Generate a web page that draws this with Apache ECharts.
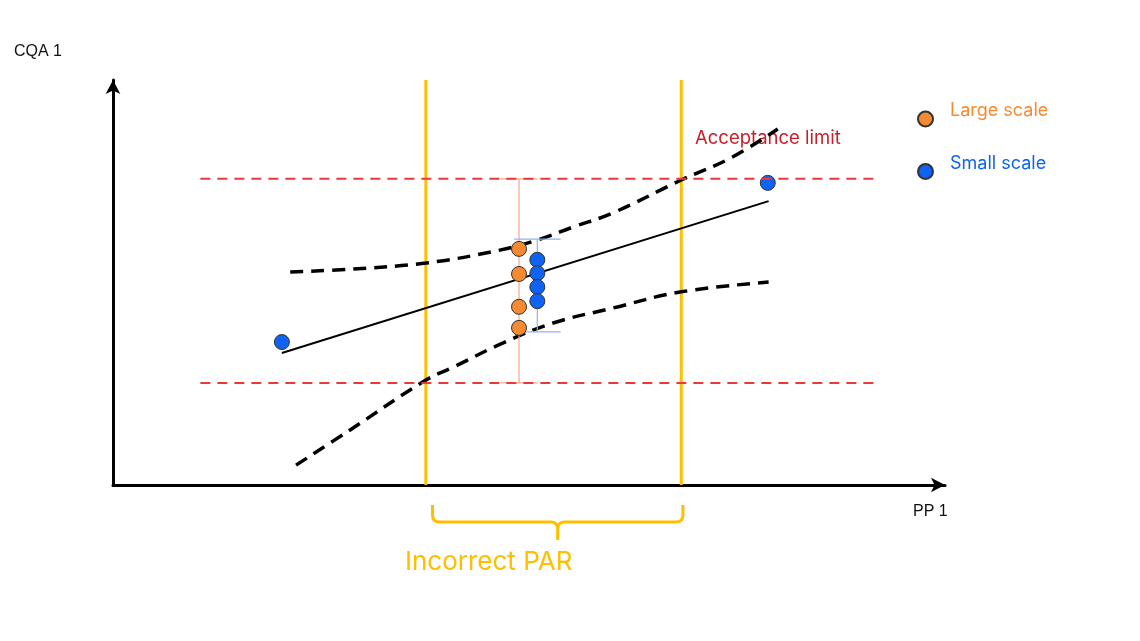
<!DOCTYPE html>
<html>
<head>
<meta charset="utf-8">
<script src="https://cdn.jsdelivr.net/npm/echarts@6/dist/echarts.min.js"></script>
<style>
  html, body { margin: 0; padding: 0; background: #fff; }
  #chart { width: 1140px; height: 641px; }
</style>
</head>
<body>
<div id="chart"></div>
<script>
// values, both axes on a 0..100 scale
const acceptanceY = [75.6, 25.2];          // upper / lower acceptance limit
const acceptanceX = [10.5, 92.2];          // extent of the limit lines
const parX = [37.6, 68.3];                 // incorrect PAR edges
const braceX = [38.4, 68.5];
const fitLine = [[20.3, 32.6], [78.8, 70.1]];
const upperBand = [[21.3, 52.6], [28.5, 53.3], [37.6, 54.8], [46.5, 58.0], [51.0, 60.5],
  [55.3, 63.7], [60.1, 67.2], [68.3, 75.3], [74.2, 80.7], [79.9, 87.9]];
const lowerBand = [[22.0, 4.9], [28.5, 13.6], [37.6, 25.9], [40.9, 29.1], [46.9, 35.1],
  [52.9, 40.0], [60.1, 43.7], [68.3, 47.7], [78.8, 50.1]];
const largeScale = [[48.8, 58.3], [48.8, 52.1], [48.8, 44.0], [48.8, 38.8]];
const smallScale = [[20.3, 35.3], [51.0, 55.6], [51.0, 52.3], [51.0, 48.9], [51.0, 45.4], [78.7, 74.6]];
// [x, low, high, cap half width]
const largeRange = [[48.8, 25.2, 75.6, 2.2]];
const smallRange = [[51.0, 37.8, 60.7, 2.8]];

const ORANGE = '#f58a32';
const BLUE = '#0f63f2';
const YELLOW = '#ffbf00';
const RED = '#e83a3a';
const FONT = 'Inter, "Noto Sans", sans-serif';

function rangeBar(color) {
  return function (params, api) {
    const top = api.coord([api.value(0), api.value(2)]);
    const bot = api.coord([api.value(0), api.value(1)]);
    const l = api.coord([api.value(0) - api.value(3), 0])[0];
    const r = api.coord([api.value(0) + api.value(3), 0])[0];
    const st = { stroke: color, lineWidth: 1.2 };
    return {
      type: 'group',
      children: [
        { type: 'line', shape: { x1: top[0], y1: top[1], x2: bot[0], y2: bot[1] }, style: st },
        { type: 'line', shape: { x1: l, y1: top[1], x2: r, y2: top[1] }, style: st },
        { type: 'line', shape: { x1: l, y1: bot[1], x2: r, y2: bot[1] }, style: st }
      ]
    };
  };
}

function braceItem(params, api) {
  const x0 = api.coord([api.value(0), 0])[0];
  const x1 = api.coord([api.value(1), 0])[0];
  const b = api.coord([0, 0])[1];
  const xm = (x0 + x1) / 2;
  const y0 = b + 20, y1 = b + 37, y2 = b + 55;
  const d = 'M' + x0 + ' ' + y0 + ' L' + x0 + ' ' + (y1 - 7) +
    ' Q' + x0 + ' ' + y1 + ' ' + (x0 + 7) + ' ' + y1 +
    ' L' + (xm - 7) + ' ' + y1 + ' Q' + xm + ' ' + y1 + ' ' + xm + ' ' + (y1 + 7) +
    ' L' + xm + ' ' + y2 +
    ' M' + xm + ' ' + (y1 + 7) + ' Q' + xm + ' ' + y1 + ' ' + (xm + 7) + ' ' + y1 +
    ' L' + (x1 - 7) + ' ' + y1 + ' Q' + x1 + ' ' + y1 + ' ' + x1 + ' ' + (y1 - 7) +
    ' L' + x1 + ' ' + y0;
  return {
    type: 'path',
    shape: { pathData: d },
    style: { stroke: YELLOW, lineWidth: 3, fill: null }
  };
}

const chart = echarts.init(document.getElementById('chart'));

chart.setOption({
  animation: false,
  textStyle: { fontFamily: FONT },
  grid: { left: 113, top: 80, width: 832, height: 405 },
  xAxis: {
    type: 'value', min: 0, max: 100,
    axisLine: { show: true, symbol: ['none', 'arrow'], symbolSize: [11, 14], lineStyle: { color: '#000', width: 3 } },
    axisTick: { show: false }, axisLabel: { show: false }, splitLine: { show: false }
  },
  yAxis: {
    type: 'value', min: 0, max: 100,
    axisLine: { show: true, symbol: ['none', 'arrow'], symbolSize: [11, 14], lineStyle: { color: '#000', width: 3 } },
    axisTick: { show: false }, axisLabel: { show: false }, splitLine: { show: false }
  },
  legend: {
    orient: 'vertical',
    left: 912, top: 97,
    itemWidth: 15, itemHeight: 15, itemGap: 27,
    icon: 'circle',
    formatter: '{t|{name}}',
    textStyle: {
      fontSize: 18, fontFamily: FONT,
      rich: { t: { fontSize: 18, fontFamily: FONT, padding: [0, 0, 16, 12] } }
    },
    data: [
      { name: 'Large scale', textStyle: { color: ORANGE, rich: { t: { color: ORANGE } } } },
      { name: 'Small scale', textStyle: { color: BLUE, rich: { t: { color: BLUE } } } }
    ]
  },
  graphic: [
    { type: 'text', left: 14, top: 44, style: { text: 'CQA 1', font: '16px "Liberation Sans", Arial', fill: '#111' } },
    { type: 'text', left: 913, top: 504, style: { text: 'PP 1', font: '16px "Liberation Sans", Arial', fill: '#111' } },
    { type: 'text', left: 695, top: 129, style: { text: 'Acceptance limit', font: '18.5px ' + FONT, fill: '#c8202a' } },
    { type: 'text', left: 405, top: 549, style: { text: 'Incorrect PAR', font: '26px ' + FONT, fill: YELLOW } }
  ],
  series: [
    {
      type: 'line', data: [[parX[0], 0], [parX[0], 100]], symbol: 'none', silent: true,
      lineStyle: { color: YELLOW, width: 3 }, z: 2
    },
    {
      type: 'line', data: [[parX[1], 0], [parX[1], 100]], symbol: 'none', silent: true,
      lineStyle: { color: YELLOW, width: 3 }, z: 2
    },
    {
      type: 'line', data: fitLine, symbol: 'none',
      lineStyle: { color: '#000', width: 2 }, z: 3
    },
    {
      type: 'line', data: upperBand, symbol: 'none', smooth: 0.4,
      lineStyle: { color: '#000', width: 3.5, type: [13, 8] }, z: 3
    },
    {
      type: 'line', data: lowerBand, symbol: 'none', smooth: 0.4,
      lineStyle: { color: '#000', width: 3.5, type: [13, 8] }, z: 3
    },
    {
      type: 'custom', renderItem: rangeBar('#f7a58a'), data: largeRange, z: 4, silent: true
    },
    {
      type: 'custom', renderItem: rangeBar('#8fb2f5'), data: smallRange, z: 4, silent: true
    },
    {
      name: 'Large scale', type: 'scatter', data: largeScale, symbolSize: 15, z: 5,
      itemStyle: { color: ORANGE, borderColor: '#333', borderWidth: 1, opacity: 1 }
    },
    {
      name: 'Small scale', type: 'scatter', data: smallScale, symbolSize: 15, z: 5,
      itemStyle: { color: BLUE, borderColor: '#333', borderWidth: 1, opacity: 1 }
    },
    {
      type: 'line', data: [[acceptanceX[0], acceptanceY[0]], [acceptanceX[1], acceptanceY[0]]],
      symbol: 'none', silent: true, lineStyle: { color: RED, width: 2, type: [10, 7] }, z: 6
    },
    {
      type: 'line', data: [[acceptanceX[0], acceptanceY[1]], [acceptanceX[1], acceptanceY[1]]],
      symbol: 'none', silent: true, lineStyle: { color: RED, width: 2, type: [10, 7] }, z: 6
    },
    {
      type: 'custom', renderItem: braceItem, data: [braceX], silent: true, clip: false
    }
  ]
});
</script>
</body>
</html>
